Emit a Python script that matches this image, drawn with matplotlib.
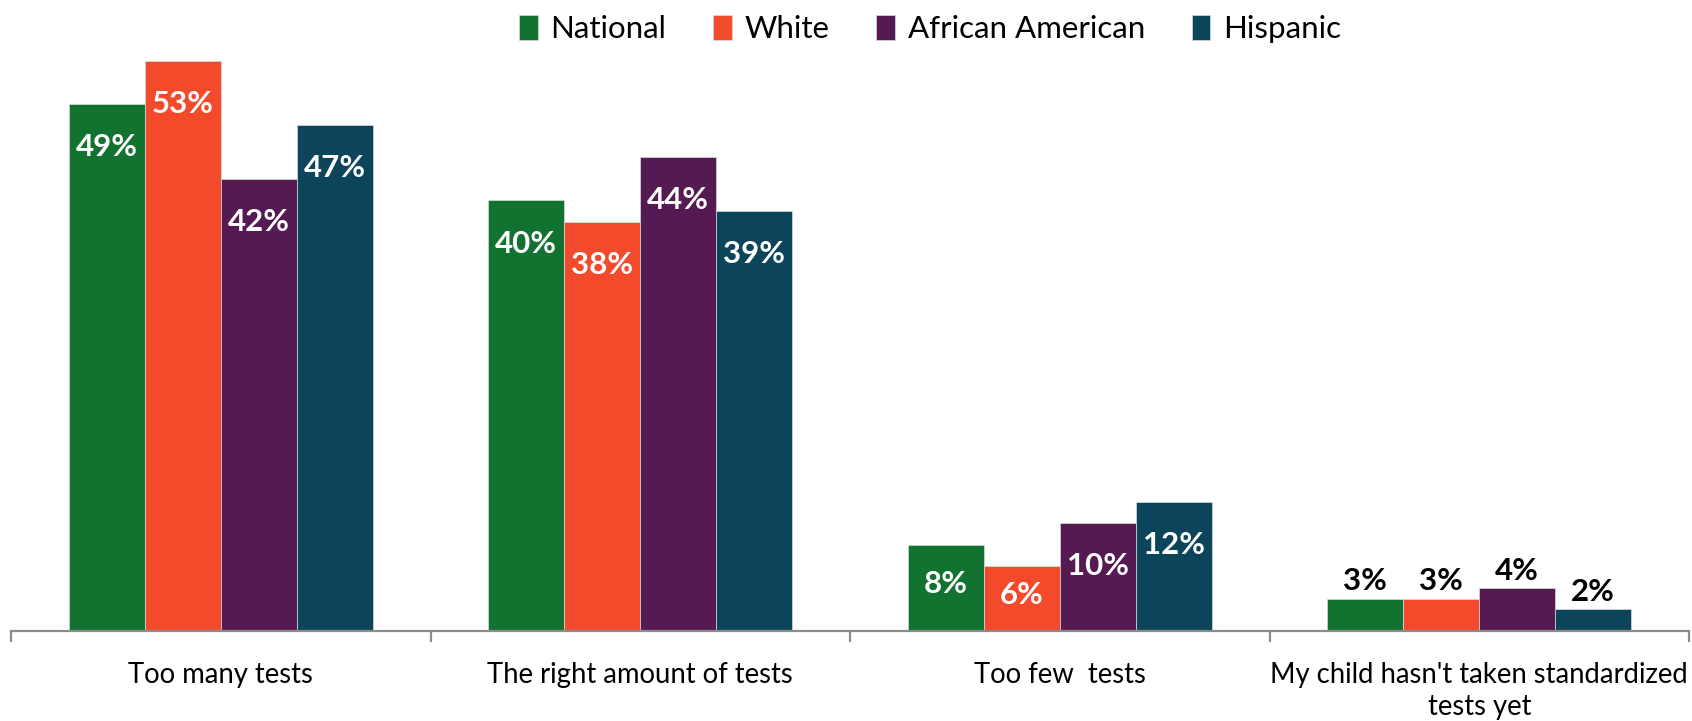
import matplotlib
matplotlib.use("Agg")
import matplotlib.pyplot as plt
import numpy as np
from matplotlib.ticker import FixedLocator, NullFormatter

categories = ["Too many tests", "The right amount of tests", "Too few  tests",
              "My child hasn't taken standardized\ntests yet"]
series_names = ["National", "White", "African American", "Hispanic"]
national = [49, 40, 8, 3]
white = [53, 38, 6, 3]
african_american = [42, 44, 10, 4]
hispanic = [47, 39, 12, 2]
colors = ["#127331", "#F24A2B", "#551A52", "#0C4459"]

plt.rcParams["font.family"] = ["Lato", "DejaVu Sans"]

fig = plt.figure(figsize=(16.92, 7.21), dpi=100)
ax = fig.add_axes([11 / 1692, 1 - 631 / 721, (1689 - 11) / 1692, 592 / 721])

series = [national, white, african_american, hispanic]
x = np.arange(len(categories))
group_w = 0.725
bw = group_w / len(series)

for i, (name, vals, col) in enumerate(zip(series_names, series, colors)):
    pos = x - group_w / 2 + bw * (i + 0.5)
    ax.bar(pos, vals, width=bw, color=col, label=name,
           edgecolor="#d5dde2", linewidth=0.5)
    for xp, v in zip(pos, vals):
        if v >= 5:
            y = max(v - 4.0, v * 0.55)
            ax.text(xp, y, f"{v}%", ha="center", va="center", color="white",
                    fontsize=22.5, fontweight="bold")
        else:
            ax.text(xp, v + 1.6, f"{v}%", ha="center", va="center", color="black",
                    fontsize=22.5, fontweight="bold")

ax.set_xlim(-0.5, len(categories) - 0.5)
ax.set_ylim(0, 55)

for s in ["top", "right", "left"]:
    ax.spines[s].set_visible(False)
ax.spines["bottom"].set_color("#8c8c8c")
ax.spines["bottom"].set_linewidth(1.6)
ax.set_yticks([])

ax.set_xticks(x)
ax.set_xticklabels(categories, fontsize=19.8, linespacing=1.3)
ax.tick_params(axis="x", which="major", length=0, pad=22)
ax.xaxis.set_minor_locator(FixedLocator(np.arange(-0.5, len(categories), 1.0)))
ax.xaxis.set_minor_formatter(NullFormatter())
ax.tick_params(axis="x", which="minor", length=8, width=1.6, color="#8c8c8c")

fig.legend(loc="center", bbox_to_anchor=(930 / 1692, 1 - 29 / 721), ncol=4,
           frameon=False, fontsize=22.5, handlelength=0.6, handleheight=0.85,
           handletextpad=0.4, columnspacing=1.5)

fig.savefig("out.png", dpi=100)
